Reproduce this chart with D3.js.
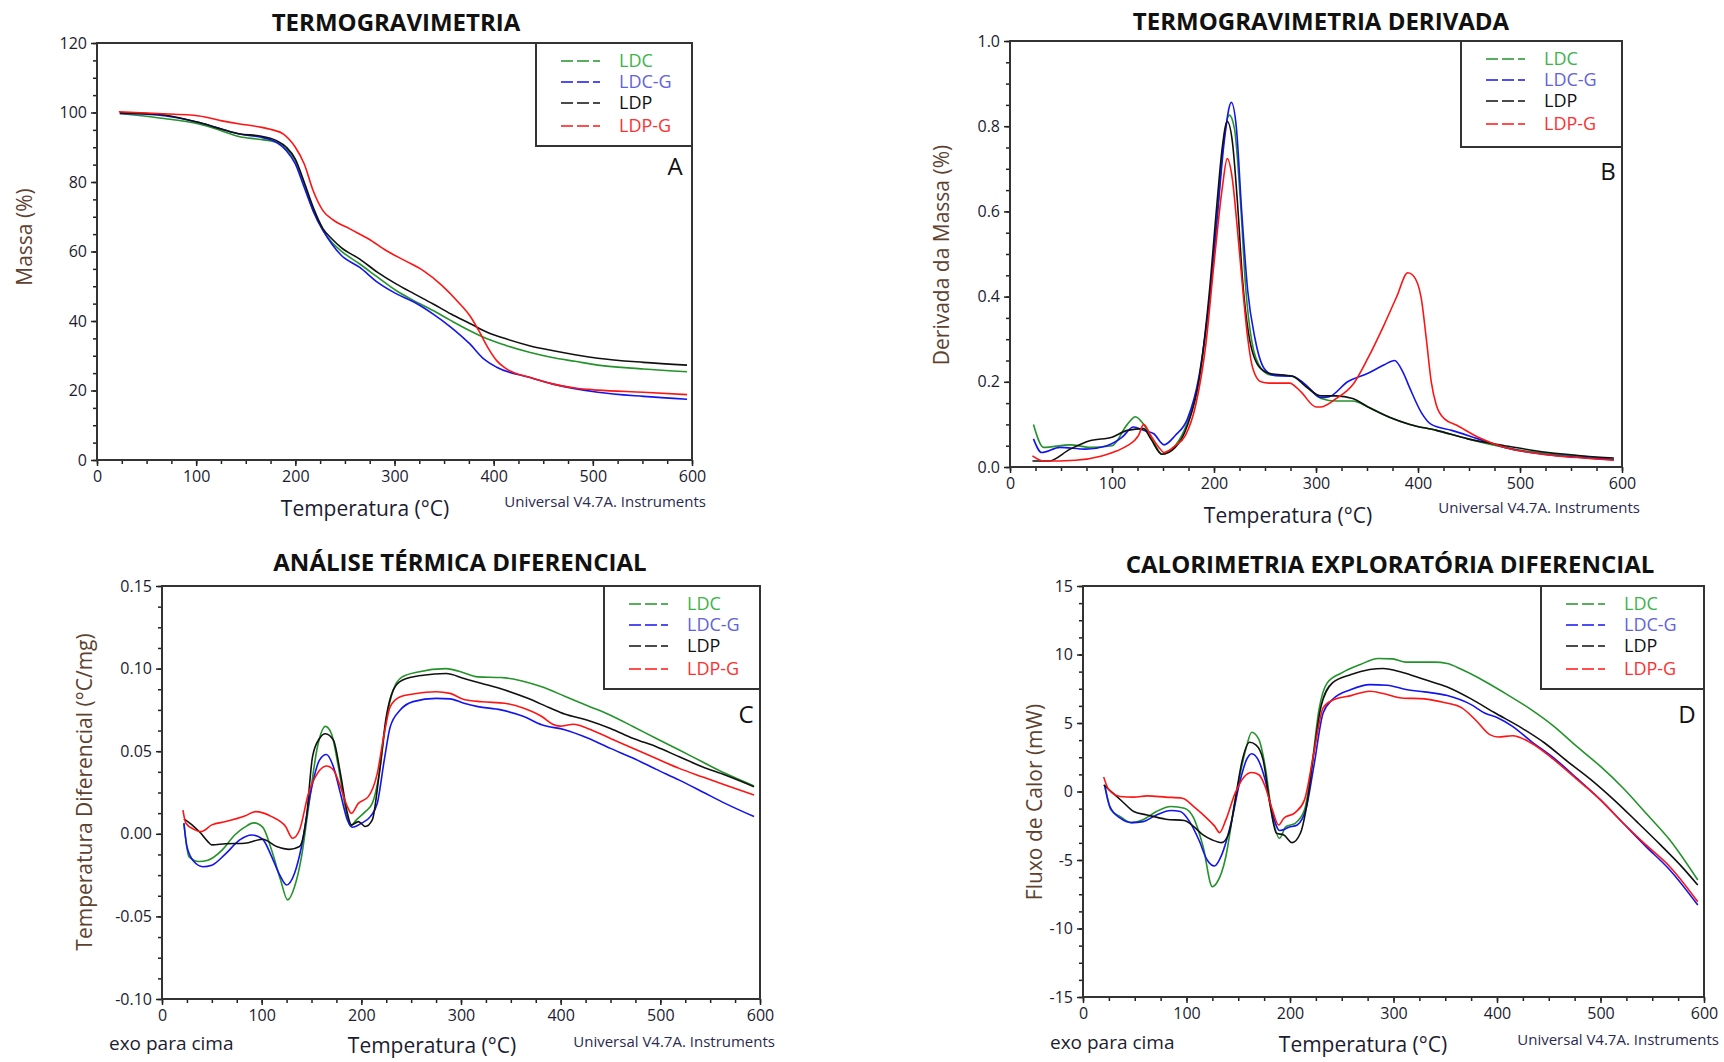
<!DOCTYPE html>
<html>
<head>
<meta charset="utf-8">
<script src="https://cdn.jsdelivr.net/npm/d3@7"></script>
<style>
  body { margin: 0; background: #fff; }
  svg { display: block; }
  text { font-family: "Open Sans", sans-serif; }
</style>
</head>
<body>
<svg id="chart" width="1724" height="1062"></svg>
<script>

// series names and colours
var seriesNames = ["LDC", "LDC-G", "LDP", "LDP-G"];
var lineColors = ["#23932a", "#1414ee", "#111111", "#ff1414"];
var labelColors = ["#3db34a", "#6262dc", "#111111", "#ff3030"];

// x axis (temperature, °C)
var tempTicks = [0, 100, 200, 300, 400, 500, 600];

// A - termogravimetria (massa %)
var tgaTicks = [0, 20, 40, 60, 80, 100, 120];
var tgaLDC = [[23,99.7],[61,98.5],[103,96.7],[126,94.7],[144,93.0],[163,92.3],[181,91.4],[191,89.5],[200,86.1],[209,79.4],[218,71.7],[228,66],[237,62.6],[246,60.2],[265,56.4],[283,52.6],[302,48.7],[320,45.8],[339,43],[357,40.1],[376,37.2],[394,34.8],[413,32.9],[436,31],[459,29.5],[482,28.4],[505,27.3],[551,26.2],[595,25.4]];
var tgaLDCG = [[23,99.7],[61,99.3],[103,97.1],[126,95.2],[144,93.8],[163,93.0],[181,91.4],[191,89],[200,85.2],[209,78.4],[218,71.7],[228,66],[237,62.1],[246,59],[265,55.4],[283,51.1],[302,47.8],[320,45.4],[339,42],[357,38.2],[376,33.4],[390,29.1],[403,26.7],[436,23.8],[459,21.9],[505,19.5],[551,18.3],[595,17.5]];
var tgaLDP = [[23,99.9],[61,99.5],[103,97.1],[126,95.2],[144,93.8],[163,93.3],[181,91.9],[191,90],[200,86.6],[209,79.9],[218,72.7],[228,66.5],[237,63.6],[246,61.2],[265,57.8],[283,54],[302,50.6],[320,47.8],[339,44.9],[357,42],[376,39.3],[394,36.7],[413,34.8],[436,32.9],[459,31.5],[482,30.3],[505,29.3],[551,28.1],[595,27.3]];
var tgaLDPG = [[22,100.2],[61,99.7],[103,99],[126,97.6],[144,96.7],[163,95.9],[177,95],[188,93.8],[200,90],[209,85.2],[218,77.5],[228,71.7],[237,69.3],[255,66.5],[274,63.6],[292,60.2],[311,57.3],[329,54.5],[348,50.2],[366,44.9],[376,41.5],[385,37.2],[394,32.4],[403,28.6],[413,26.2],[436,23.8],[459,21.9],[482,20.7],[505,20.1],[551,19.5],[595,18.8]];

// B - termogravimetria derivada
var dtgTicks = [0, 0.2, 0.4, 0.6, 0.8, 1.0];
var dtgLDC = [[23,0.10],[33,0.046],[59,0.052],[79,0.046],[100,0.05],[115,0.10],[123,0.118],[131,0.10],[141,0.058],[149,0.03],[162,0.05],[174,0.105],[185,0.2],[195,0.383],[203,0.589],[209,0.756],[215,0.826],[220,0.795],[226,0.621],[231,0.423],[237,0.296],[246,0.232],[256,0.216],[277,0.213],[292,0.185],[305,0.161],[320,0.155],[336,0.155],[351,0.141],[372,0.117],[392,0.10],[418,0.086],[449,0.066],[485,0.046],[510,0.036],[562,0.025],[592,0.018]];
var dtgLDCG = [[23,0.066],[31,0.034],[49,0.046],[74,0.042],[95,0.05],[110,0.07],[121,0.094],[131,0.086],[141,0.078],[151,0.052],[162,0.074],[174,0.113],[185,0.209],[195,0.383],[203,0.581],[210,0.764],[217,0.856],[222,0.795],[227,0.605],[233,0.415],[240,0.304],[249,0.232],[259,0.215],[277,0.213],[290,0.193],[305,0.163],[313,0.165],[331,0.2],[351,0.22],[367,0.24],[377,0.25],[385,0.224],[392,0.185],[403,0.129],[413,0.10],[433,0.086],[459,0.066],[485,0.046],[510,0.034],[562,0.022],[592,0.017]];
var dtgLDP = [[22,0.014],[38,0.014],[59,0.042],[79,0.062],[100,0.07],[115,0.086],[131,0.09],[138,0.066],[149,0.03],[162,0.046],[174,0.098],[185,0.2],[195,0.399],[203,0.621],[208,0.748],[213,0.811],[218,0.764],[223,0.621],[228,0.439],[234,0.312],[244,0.236],[254,0.22],[277,0.213],[292,0.185],[305,0.167],[320,0.167],[336,0.161],[351,0.141],[372,0.117],[392,0.10],[418,0.086],[449,0.066],[485,0.05],[510,0.04],[562,0.026],[592,0.021]];
var dtgLDPG = [[22,0.026],[33,0.014],[64,0.016],[90,0.026],[105,0.038],[115,0.05],[126,0.074],[131,0.10],[138,0.074],[146,0.046],[151,0.034],[162,0.05],[172,0.074],[182,0.145],[192,0.288],[200,0.478],[208,0.653],[213,0.724],[218,0.676],[223,0.557],[228,0.423],[233,0.304],[238,0.232],[246,0.2],[254,0.197],[274,0.197],[285,0.177],[300,0.141],[305,0.141],[320,0.161],[336,0.193],[351,0.256],[367,0.335],[379,0.399],[390,0.456],[395,0.45],[403,0.399],[408,0.304],[413,0.2],[418,0.145],[426,0.113],[438,0.098],[459,0.07],[485,0.046],[510,0.034],[536,0.026],[562,0.021],[592,0.016]];

// C - análise térmica diferencial
var dtaTicks = [-0.10, -0.05, 0.00, 0.05, 0.10, 0.15];
var dtaLDC = [[22,0.0064],[27,-0.0138],[37,-0.0168],[46,-0.016],[60,-0.01],[73,-0.0007],[83,0.004],[92,0.0066],[101,0.004],[110,-0.01],[119,-0.028],[126,-0.04],[133,-0.032],[140,-0.0138],[147,0.016],[156,0.0527],[164,0.065],[170,0.0606],[177,0.0405],[184,0.016],[189,0.0047],[195,0.0084],[204,0.0134],[211,0.0184],[218,0.0366],[225,0.0688],[232,0.087],[241,0.095],[257,0.098],[285,0.1],[298,0.0984],[317,0.095],[340,0.0946],[358,0.093],[381,0.089],[404,0.0833],[427,0.0775],[450,0.0718],[473,0.0648],[496,0.0577],[519,0.0507],[542,0.0436],[565,0.0366],[594,0.029]];
var dtaLDCG = [[22,0.0064],[25,-0.0077],[32,-0.0168],[41,-0.0199],[50,-0.019],[64,-0.012],[78,-0.0037],[90,-0.0007],[101,-0.0033],[110,-0.0138],[119,-0.026],[125,-0.031],[133,-0.0239],[140,-0.0077],[149,0.0245],[158,0.0446],[165,0.048],[172,0.0405],[179,0.0245],[186,0.0084],[191,0.004],[200,0.0064],[209,0.0104],[216,0.0184],[223,0.0446],[229,0.0648],[239,0.0749],[252,0.08],[275,0.082],[289,0.0817],[303,0.079],[317,0.077],[340,0.075],[363,0.071],[381,0.066],[404,0.063],[427,0.058],[450,0.0517],[473,0.0457],[496,0.039],[519,0.0325],[542,0.0255],[565,0.0184],[594,0.0104]];
var dtaLDP = [[22,0.009],[32,0.0044],[39,0.0003],[46,-0.0047],[50,-0.0067],[64,-0.006],[83,-0.0057],[101,-0.0033],[115,-0.0077],[128,-0.0094],[138,-0.0077],[145,0.0104],[151,0.0466],[158,0.0577],[164,0.0606],[172,0.0567],[179,0.0366],[186,0.0124],[190,0.0054],[197,0.0074],[204,0.0044],[211,0.0084],[218,0.0366],[225,0.0708],[232,0.087],[241,0.093],[262,0.096],[285,0.097],[303,0.094],[321,0.091],[344,0.087],[367,0.082],[390,0.076],[404,0.0725],[427,0.0688],[450,0.0638],[473,0.0577],[496,0.0527],[519,0.0466],[542,0.0406],[565,0.0356],[594,0.0285]];
var dtaLDPG = [[21,0.0144],[24,0.0064],[32,0.0027],[39,0.0013],[50,0.0054],[64,0.0074],[83,0.0108],[94,0.0134],[110,0.0104],[124,0.0044],[131,-0.0027],[138,0.0023],[147,0.0245],[156,0.0366],[165,0.041],[172,0.0386],[179,0.0285],[186,0.0164],[190,0.0124],[197,0.0184],[207,0.0225],[216,0.0366],[223,0.0608],[229,0.077],[239,0.083],[252,0.0846],[275,0.086],[289,0.085],[303,0.0813],[321,0.0799],[344,0.079],[363,0.076],[381,0.071],[392,0.0663],[399,0.0652],[413,0.0663],[427,0.0638],[450,0.0577],[473,0.0517],[496,0.0456],[519,0.0396],[542,0.0345],[565,0.0295],[594,0.0235]];

// D - calorimetria exploratória diferencial (mW)
var dscTicks = [-15, -10, -5, 0, 5, 10, 15];
var dscLDC = [[21,0.37],[27,-1.34],[36,-1.83],[47,-2.27],[58,-2.07],[71,-1.46],[85,-1.1],[98,-1.22],[107,-1.95],[116,-4.02],[125,-6.95],[129,-6.7],[138,-4.76],[145,-1.59],[152,1.34],[158,3.29],[163,4.32],[170,3.78],[176,1.83],[183,-1.83],[190,-3.41],[196,-2.56],[205,-2.32],[214,-1.34],[221,1.83],[228,5.98],[236,7.93],[250,8.66],[268,9.27],[285,9.71],[299,9.68],[312,9.44],[339,9.44],[352,9.34],[366,8.9],[388,8.05],[410,7.07],[433,5.98],[455,4.76],[477,3.29],[500,1.83],[522,0.24],[544,-1.59],[567,-3.54],[594,-6.46]];
var dscLDCG = [[21,0.49],[26,-1.1],[36,-1.95],[47,-2.27],[58,-2.2],[71,-1.71],[85,-1.39],[94,-1.46],[103,-2.2],[112,-3.54],[120,-5.0],[127,-5.44],[134,-4.63],[143,-2.32],[152,0.85],[158,2.32],[163,2.76],[170,2.2],[176,0.85],[183,-1.59],[190,-2.85],[199,-2.61],[207,-2.44],[216,-1.1],[223,1.83],[232,5.73],[241,6.71],[259,7.44],[277,7.8],[294,7.76],[312,7.44],[330,7.27],[352,7.0],[375,6.34],[388,5.73],[401,5.37],[415,4.76],[433,3.66],[455,2.44],[477,0.98],[500,-0.61],[522,-2.32],[544,-4.02],[567,-5.73],[594,-8.29]];
var dscLDP = [[20,0.49],[29,-0.12],[38,-0.73],[49,-1.46],[62,-1.71],[80,-2.02],[98,-2.12],[107,-2.56],[116,-3.17],[125,-3.54],[134,-3.73],[141,-3.05],[147,-0.61],[154,2.32],[161,3.59],[167,3.41],[174,2.32],[181,-1.1],[187,-3.05],[194,-3.17],[202,-3.73],[210,-3.05],[216,-1.1],[223,2.8],[230,6.22],[241,7.93],[259,8.54],[277,8.9],[290,8.98],[308,8.71],[330,8.17],[352,7.63],[375,6.76],[397,5.78],[424,4.63],[446,3.54],[468,2.2],[491,0.85],[513,-0.61],[535,-2.2],[558,-3.9],[580,-5.61],[594,-6.83]];
var dscLDPG = [[20,1.05],[25,0.12],[36,-0.37],[49,-0.41],[62,-0.32],[80,-0.41],[96,-0.49],[107,-1.1],[118,-1.83],[127,-2.51],[132,-3.0],[138,-2.07],[147,-0.12],[156,1.1],[163,1.39],[170,1.22],[176,0.37],[183,-1.34],[189,-2.44],[194,-1.95],[205,-1.54],[214,-0.61],[223,2.8],[232,6.1],[241,6.66],[259,7.0],[277,7.32],[290,7.15],[308,6.83],[330,6.76],[348,6.51],[366,6.1],[379,5.24],[393,4.15],[401,3.98],[415,4.07],[433,3.54],[455,2.32],[477,0.9],[500,-0.61],[522,-2.32],[544,-3.9],[567,-5.49],[594,-8.05]];

var svg = d3.select("#chart");

var panels = [
  { title: "TERMOGRAVIMETRIA", letter: "A", ylabel: "Massa (%)",
    series: [tgaLDC, tgaLDCG, tgaLDP, tgaLDPG], yTicks: tgaTicks, yMinor: 5,
    fmt: d3.format("d"),
    left: 97, right: 692, top: 43, bottom: 460,
    titleX: 396, titleY: 23, letterX: 675, letterY: 167,
    ylabelX: 25, ylabelY: 237, xlabelX: 365, xlabelY: 509, univX: 706, univY: 502,
    legLeft: 536, legBottom: 146, exo: false },
  { title: "TERMOGRAVIMETRIA DERIVADA", letter: "B", ylabel: "Derivada da Massa (%)",
    series: [dtgLDC, dtgLDCG, dtgLDP, dtgLDPG], yTicks: dtgTicks, yMinor: 0.05,
    fmt: d3.format(".1f"),
    left: 1010, right: 1622, top: 41, bottom: 467,
    titleX: 1321, titleY: 22, letterX: 1608, letterY: 172,
    ylabelX: 942, ylabelY: 255, xlabelX: 1288, xlabelY: 516, univX: 1640, univY: 508,
    legLeft: 1461, legBottom: 147, exo: false },
  { title: "ANÁLISE TÉRMICA DIFERENCIAL", letter: "C", ylabel: "Temperatura Diferencial (°C/mg)",
    series: [dtaLDC, dtaLDCG, dtaLDP, dtaLDPG], yTicks: dtaTicks, yMinor: 0.0125,
    fmt: function(d) { return d3.format(".2f")(d).replace("−", "-"); },
    left: 162, right: 760, top: 586, bottom: 999,
    titleX: 460, titleY: 563, letterX: 746, letterY: 715,
    ylabelX: 85, ylabelY: 792, xlabelX: 432, xlabelY: 1046, univX: 775, univY: 1042,
    legLeft: 604, legBottom: 689, exo: true, exoX: 109, exoY: 1043 },
  { title: "CALORIMETRIA EXPLORATÓRIA DIFERENCIAL", letter: "D", ylabel: "Fluxo de Calor (mW)",
    series: [dscLDC, dscLDCG, dscLDP, dscLDPG], yTicks: dscTicks, yMinor: 1.25,
    fmt: function(d) { return d3.format("d")(d).replace("−", "-"); },
    left: 1083, right: 1704, top: 586, bottom: 997,
    titleX: 1390, titleY: 565, letterX: 1687, letterY: 715,
    ylabelX: 1035, ylabelY: 802, xlabelX: 1363, xlabelY: 1045, univX: 1719, univY: 1040,
    legLeft: 1541, legBottom: 689, exo: true, exoX: 1050, exoY: 1042 }
];

panels.forEach(function(p) {
  var x = d3.scaleLinear().domain([0, 600]).range([p.left, p.right]);
  var y = d3.scaleLinear().domain([p.yTicks[0], p.yTicks[p.yTicks.length - 1]]).range([p.bottom, p.top]);
  var g = svg.append("g");

  // minor ticks
  var yMin = [];
  for (var v = y.domain()[0]; v <= y.domain()[1] + 1e-9; v += p.yMinor) yMin.push(v);
  g.append("g").attr("transform", "translate(" + p.left + ",0)")
    .call(d3.axisLeft(y).tickValues(yMin).tickSize(4).tickFormat(""))
    .call(function(a) { a.select(".domain").remove(); a.selectAll("line").attr("stroke", "#222").attr("stroke-width", 1.5); });
  g.append("g").attr("transform", "translate(0," + p.bottom + ")")
    .call(d3.axisBottom(x).tickValues(d3.range(0, 601, 25)).tickSize(4).tickFormat(""))
    .call(function(a) { a.select(".domain").remove(); a.selectAll("line").attr("stroke", "#222").attr("stroke-width", 1.5); });

  // major ticks + labels
  g.append("g").attr("transform", "translate(" + p.left + ",0)")
    .call(d3.axisLeft(y).tickValues(p.yTicks).tickSize(6).tickPadding(4).tickFormat(p.fmt))
    .call(function(a) {
      a.select(".domain").remove();
      a.selectAll("line").attr("stroke", "#222").attr("stroke-width", 1.5);
      a.selectAll("text").attr("font-size", 16).attr("fill", "#1c1c30").style("font-family", "Open Sans");
    });
  g.append("g").attr("transform", "translate(0," + p.bottom + ")")
    .call(d3.axisBottom(x).tickValues(tempTicks).tickSize(6).tickPadding(5).tickFormat(d3.format("d")))
    .call(function(a) {
      a.select(".domain").remove();
      a.selectAll("line").attr("stroke", "#222").attr("stroke-width", 1.5);
      a.selectAll("text").attr("font-size", 16).attr("fill", "#1c1c30").style("font-family", "Open Sans");
    });

  // curves
  var line = d3.line().x(function(d) { return x(d[0]); }).y(function(d) { return y(d[1]); }).curve(d3.curveMonotoneX);
  p.series.forEach(function(s, i) {
    g.append("path").datum(s).attr("d", line).attr("fill", "none")
      .attr("stroke", lineColors[i]).attr("stroke-width", 1.6);
  });

  // frame
  g.append("rect").attr("x", p.left).attr("y", p.top)
    .attr("width", p.right - p.left).attr("height", p.bottom - p.top)
    .attr("fill", "none").attr("stroke", "#333").attr("stroke-width", 2);

  // legend
  g.append("rect").attr("x", p.legLeft).attr("y", p.top)
    .attr("width", p.right - p.legLeft).attr("height", p.legBottom - p.top)
    .attr("fill", "#fff").attr("stroke", "#333").attr("stroke-width", 2);
  var rowY = [18, 39, 60, 83];
  seriesNames.forEach(function(n, i) {
    var yy = p.top + rowY[i];
    g.append("line").attr("x1", p.legLeft + 25).attr("x2", p.legLeft + 64)
      .attr("y1", yy).attr("y2", yy).attr("stroke", lineColors[i]).attr("stroke-width", 1.6)
      .attr("stroke-dasharray", "12,4");
    g.append("text").attr("x", p.legLeft + 83).attr("y", yy).attr("dy", "0.35em")
      .attr("font-size", 18).attr("fill", labelColors[i]).text(n);
  });

  // texts
  g.append("text").attr("x", p.titleX).attr("y", p.titleY).attr("dy", "0.35em")
    .attr("text-anchor", "middle").attr("font-size", 24).attr("font-weight", "bold")
    .attr("fill", "#111").text(p.title);
  g.append("text").attr("x", p.letterX).attr("y", p.letterY).attr("dy", "0.35em")
    .attr("text-anchor", "middle").attr("font-size", 24).attr("fill", "#111").text(p.letter);
  g.append("text").attr("transform", "translate(" + p.ylabelX + "," + p.ylabelY + ") rotate(-90)")
    .attr("dy", "0.35em").attr("text-anchor", "middle").attr("font-size", 21)
    .attr("fill", "#5e4230").text(p.ylabel);
  g.append("text").attr("x", p.xlabelX).attr("y", p.xlabelY).attr("dy", "0.35em")
    .attr("text-anchor", "middle").attr("font-size", 21).attr("fill", "#1c1c30").text("Temperatura (°C)");
  g.append("text").attr("x", p.univX).attr("y", p.univY).attr("dy", "0.35em")
    .attr("text-anchor", "end").attr("font-size", 15).attr("fill", "#2a2a50").text("Universal V4.7A. Instruments");
  if (p.exo) {
    g.append("text").attr("x", p.exoX).attr("y", p.exoY).attr("dy", "0.35em")
      .attr("font-size", 19).attr("fill", "#1c1c30").text("exo para cima");
  }
});

</script>
</body>
</html>
